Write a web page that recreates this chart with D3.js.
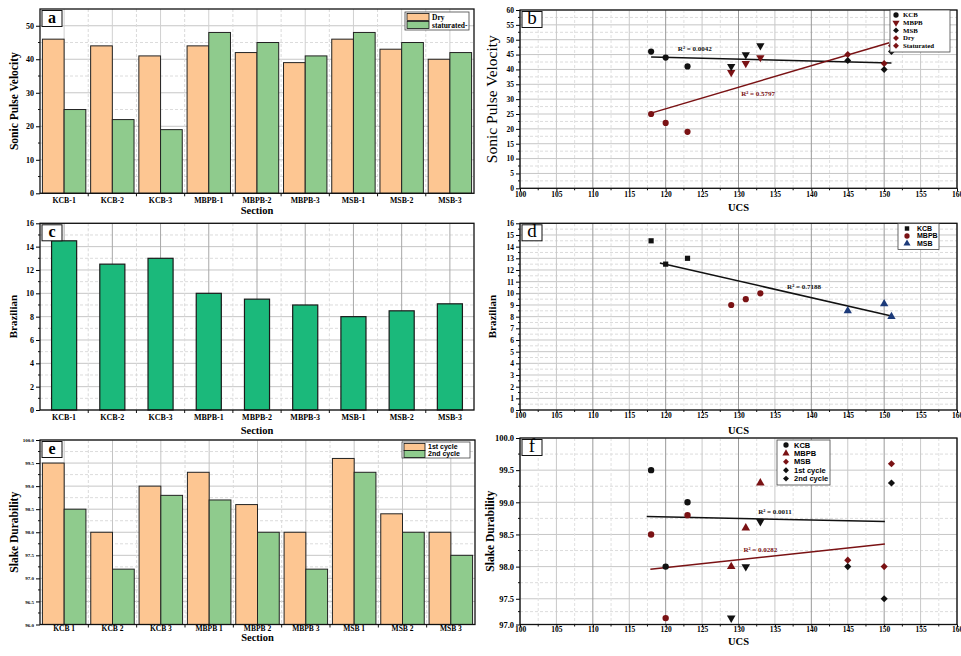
<!DOCTYPE html>
<html>
<head>
<meta charset="utf-8">
<script src="https://cdn.jsdelivr.net/npm/d3@7"></script>
<style>
  body { margin: 0; background: #fff; }
  svg { display: block; font-family: 'Liberation Serif', 'Times New Roman', serif; font-weight: bold; }
</style>
</head>
<body>
<div class="canvas"></div>
<script>
// ---- data ----
const sections = ['KCB-1', 'KCB-2', 'KCB-3', 'MBPB-1', 'MBPB-2', 'MBPB-3', 'MSB-1', 'MSB-2', 'MSB-3'];
const sectionsSlake = ['KCB 1', 'KCB 2', 'KCB 3', 'MBPB 1', 'MBPB 2', 'MBPB 3', 'MSB 1', 'MSB 2', 'MSB 3'];
const ucs = [118, 120, 123, 133, 131, 129, 151, 145, 150];

const sonicDry = [46, 44, 41, 44, 42, 39, 46, 43, 40];
const sonicSat = [25, 22, 19, 48, 45, 41, 48, 45, 42];
const brazilian = [14.5, 12.5, 13, 10, 9.5, 9, 8, 8.5, 9.1];
const slake1st = [99.5, 98.0, 99.0, 99.3, 98.6, 98.0, 99.6, 98.4, 98.0];
const slake2nd = [98.5, 97.2, 98.8, 98.7, 98.0, 97.2, 99.3, 98.0, 97.5];
const slakeUcs1st = [99.5, 98.0, 99.0, 99.3, 98.6, 98.0, 99.6, 98.1, 98.0];

// trend lines (end points as drawn)
const fitSonicBlack = [[118, 44.2], [151, 42.2]];
const fitSonicRed = [[118, 25.3], [150.7, 49]];
const fitBraz = [[119.2, 12.6], [151, 8.05]];
const fitSlakeBlack = [[117.4, 98.78], [150.1, 98.7]];
const fitSlakeRed = [[117.9, 97.96], [150.1, 98.35]];

const r2Sonic = ['R² = 0.0042', 'R² = 0.5797'];
const r2SonicAt = [[124, 47.2], [132.7, 32]];
const r2Braz = ['R² = 0.7188'];
const r2BrazAt = [[139, 10.6]];
const r2Slake = ['R² = 0.0011', 'R² = 0.0282'];
const r2SlakeAt = [[135, 98.85], [133, 98.26]];

// tick values
const ucsTicks = [100, 105, 110, 115, 120, 125, 130, 135, 140, 145, 150, 155, 160];
const sonicTicks = [0, 10, 20, 30, 40, 50];
const sonicUcsTicks = [0, 5, 10, 15, 20, 25, 30, 35, 40, 45, 50, 55, 60];
const brazTicks = [0, 2, 4, 6, 8, 10, 12, 14, 16];
const brazUcsTicks = [0, 1, 2, 3, 4, 5, 6, 7, 8, 9, 10, 11, 12, 13, 14, 15, 16];
const slakeTicks = [96.0, 96.5, 97.0, 97.5, 98.0, 98.5, 99.0, 99.5, 100.0];
const slakeUcsTicks = [97.1, 97.5, 98.0, 98.5, 99.0, 99.5, 100.0];

// ---- drawing ----
const svg = d3.select('.canvas')
    .append('svg')
    .attr('width', 961)
    .attr('height', 656)
;

const ink = '#111';
const red = '#7a1214';
const blue = '#1d3b7a';
const orange = '#fdc692';
const green = '#8fcb8d';
const teal = '#1bb97b';
const sans = "'Liberation Sans', Arial, sans-serif";

const mid = (a) => a.slice(1).map((v, i) => (v + a[i]) / 2);

const panel = (p) => {
    const g = svg.append('g');
    const y = d3.scaleLinear().domain(p.yDomain).range([p.bottom, p.top]);
    const x = p.cats
        ? d3.scaleBand().domain(p.cats).range([p.left, p.right]).paddingInner(p.pad).paddingOuter(p.pad / 2)
        : d3.scaleLinear().domain([100, 160]).range([p.left, p.right]);

    const grid = g.append('g').attr('fill', 'none');
    const yMinor = mid(p.yTicks);

    grid.append('g').selectAll('line').data(yMinor).join('line')
        .attr('x1', p.left).attr('x2', p.right)
        .attr('y1', d => y(d)).attr('y2', d => y(d))
        .attr('stroke', '#dcdcdc').attr('stroke-dasharray', '3,2')
    ;
    grid.append('g').selectAll('line').data(p.yTicks).join('line')
        .attr('x1', p.left).attr('x2', p.right)
        .attr('y1', d => y(d)).attr('y2', d => y(d))
        .attr('stroke', '#c6c6c6')
    ;

    if (p.cats) {
        const edge = p.cats.slice(1).map(c => x(c) - x.step() * p.pad / 2);
        grid.append('g').selectAll('line').data(edge).join('line')
            .attr('x1', d => d).attr('x2', d => d)
            .attr('y1', p.top).attr('y2', p.bottom)
            .attr('stroke', '#dadada').attr('stroke-dasharray', '3,2')
        ;
        grid.append('g').selectAll('line').data(p.cats).join('line')
            .attr('x1', d => x(d) + x.bandwidth() / 2).attr('x2', d => x(d) + x.bandwidth() / 2)
            .attr('y1', p.top).attr('y2', p.bottom)
            .attr('stroke', p.catGrid)
        ;
        g.append('g').selectAll('line').data(edge).join('line')
            .attr('x1', d => d).attr('x2', d => d)
            .attr('y1', p.bottom).attr('y2', p.bottom + 3)
            .attr('stroke', ink)
        ;
        const xa = g.append('g')
            .attr('transform', `translate(0,${p.bottom})`)
            .call(d3.axisBottom(x).tickSize(0).tickPadding(p.xOff))
        ;
        xa.select('.domain').remove();
        xa.attr('font-family', null).attr('font-size', p.xFont);
    } else {
        grid.append('g').selectAll('line').data(mid(ucsTicks)).join('line')
            .attr('x1', d => x(d)).attr('x2', d => x(d))
            .attr('y1', p.top).attr('y2', p.bottom)
            .attr('stroke', '#e0e0e0').attr('stroke-dasharray', '3,2')
        ;
        grid.append('g').selectAll('line').data(ucsTicks).join('line')
            .attr('x1', d => x(d)).attr('x2', d => x(d))
            .attr('y1', p.top).attr('y2', p.bottom)
            .attr('stroke', d => d % 10 === 0 ? '#9a9a9a' : '#c8c8c8')
        ;
        const xa = g.append('g')
            .attr('transform', `translate(0,${p.bottom})`)
            .call(d3.axisBottom(x).tickValues(ucsTicks).tickSizeInner(3).tickSizeOuter(0).tickPadding(p.xOff - 3))
        ;
        xa.select('.domain').remove();
        xa.attr('font-family', null).attr('font-size', p.xFont);
        g.append('g').selectAll('line').data(mid(ucsTicks)).join('line')
            .attr('x1', d => x(d)).attr('x2', d => x(d))
            .attr('y1', p.bottom).attr('y2', p.bottom + 2)
            .attr('stroke', ink)
        ;
    }

    // y axis
    const ya = g.append('g')
        .attr('transform', `translate(${p.left},0)`)
        .call(d3.axisLeft(y).tickValues(p.yTicks).tickFormat(p.yFmt).tickSizeInner(4).tickSizeOuter(0).tickPadding(2))
    ;
    ya.select('.domain').remove();
    ya.attr('font-family', null).attr('font-size', p.yFont);
    g.append('g').selectAll('line').data(yMinor).join('line')
        .attr('x1', p.left - 2).attr('x2', p.left)
        .attr('y1', d => y(d)).attr('y2', d => y(d))
        .attr('stroke', ink)
    ;

    // titles
    g.append('text')
        .attr('transform', `translate(${p.yTitleX},${(p.top + p.bottom) / 2}) rotate(-90)`)
        .attr('text-anchor', 'middle')
        .attr('font-size', p.yTitleSize)
        .attr('font-weight', p.yTitleWeight || 'bold')
        .text(p.yTitle)
    ;
    g.append('text')
        .attr('x', (p.left + p.right) / 2)
        .attr('y', p.xTitleY)
        .attr('text-anchor', 'middle')
        .attr('font-size', p.xTitleSize)
        .text(p.xTitle)
    ;

    const marks = g.append('g');

    // frame and letter box drawn on top
    g.append('rect')
        .attr('x', p.left).attr('y', p.top)
        .attr('width', p.right - p.left).attr('height', p.bottom - p.top)
        .attr('fill', 'none').attr('stroke', ink).attr('stroke-width', 1.3)
    ;
    g.append('rect')
        .attr('x', p.left + 2).attr('y', p.top + 1.5)
        .attr('width', 20).attr('height', 16)
        .attr('fill', '#fff').attr('stroke', ink).attr('stroke-width', 1)
    ;
    g.append('text')
        .attr('x', p.left + 12).attr('y', p.top + 14)
        .attr('text-anchor', 'middle')
        .attr('font-size', p.letterSize)
        .attr('font-weight', p.letterWeight)
        .text(p.letter)
    ;

    return { g, marks, x, y };
};

const symbolPath = (type, size) => d3.symbol().type(type).size(size)();
// diamonds in the figure are squares turned on their corner
const shapes = {
    circle: [d3.symbolCircle, 0, 1],
    up: [d3.symbolTriangle, 0, 1],
    down: [d3.symbolTriangle, 180, 1],
    diamond: [d3.symbolSquare, 45, 0.8],
    square: [d3.symbolSquare, 0, 0.9],
};

const drawPoints = (pn, pts, size) => {
    pn.marks.append('g').selectAll('path').data(pts).join('path')
        .attr('d', d => symbolPath(shapes[d.shape][0], size * shapes[d.shape][2]))
        .attr('transform', d => `translate(${pn.x(d.x)},${pn.y(d.y)}) rotate(${shapes[d.shape][1]})`)
        .attr('fill', d => d.colour)
    ;
};

const drawFit = (pn, pts, colour) => {
    pn.marks.append('path')
        .attr('d', d3.line().x(d => pn.x(d[0])).y(d => pn.y(d[1]))(pts))
        .attr('fill', 'none')
        .attr('stroke', colour)
        .attr('stroke-width', 1.5)
    ;
};

const drawR2 = (pn, labels, at, colour) => {
    pn.marks.append('g').selectAll('text').data(labels).join('text')
        .attr('x', (d, i) => pn.x(at[i][0]))
        .attr('y', (d, i) => pn.y(at[i][1]) + 2.5)
        .attr('text-anchor', 'middle')
        .attr('font-size', 7)
        .attr('fill', (d, i) => colour[i])
        .text(d => d)
    ;
};

const drawLegend = (pn, box, rows, font, fontSize, rowH) => {
    const lg = pn.g.append('g');
    lg.append('rect')
        .attr('x', box[0]).attr('y', box[1]).attr('width', box[2]).attr('height', box[3])
        .attr('fill', '#fff').attr('stroke', '#444').attr('stroke-width', 0.8)
    ;
    rows.forEach((r, i) => {
        const cy = box[1] + 5 + i * rowH;
        if (r.swatch) {
            lg.append('rect')
                .attr('x', box[0] + 2).attr('y', cy - 3.5).attr('width', r.swatch).attr('height', 7)
                .attr('fill', r.colour).attr('stroke', ink).attr('stroke-width', 0.8)
            ;
        } else {
            lg.append('path')
                .attr('d', symbolPath(shapes[r.shape][0], 22 * shapes[r.shape][2]))
                .attr('transform', `translate(${box[0] + r.mx},${cy}) rotate(${shapes[r.shape][1]})`)
                .attr('fill', r.colour)
            ;
        }
        lg.append('text')
            .attr('x', box[0] + r.tx).attr('y', cy + fontSize * 0.35)
            .attr('font-family', font)
            .attr('font-size', fontSize)
            .text(r.name)
        ;
    });
};

const groupOf = i => Math.floor(i / 3);

// ---- a: sonic pulse velocity bars ----
const pa = panel({
    left: 40, right: 474, top: 9, bottom: 193.3,
    cats: sections, pad: 0.1, catGrid: '#d0d0d0',
    yDomain: [0, 55], yTicks: sonicTicks, yFmt: d3.format('d'), yFont: 8,
    xFont: 7.8, xOff: 4.5,
    yTitle: 'Sonic Pulse Velocity', yTitleX: 18, yTitleSize: 11.5,
    xTitle: 'Section', xTitleY: 214, xTitleSize: 10.5,
    letter: 'a', letterSize: 16, letterWeight: 'bold',
});
const sub = d3.scaleBand().domain(['dry', 'sat']).range([0, pa.x.bandwidth()]);
pa.marks.append('g').selectAll('rect').data(sonicDry).join('rect')
    .attr('x', (d, i) => pa.x(sections[i]) + sub('dry'))
    .attr('y', d => pa.y(d))
    .attr('width', sub.bandwidth())
    .attr('height', d => pa.y(0) - pa.y(d))
    .attr('fill', orange).attr('stroke', '#222').attr('stroke-width', 1)
;
pa.marks.append('g').selectAll('rect').data(sonicSat).join('rect')
    .attr('x', (d, i) => pa.x(sections[i]) + sub('sat'))
    .attr('y', d => pa.y(d))
    .attr('width', sub.bandwidth())
    .attr('height', d => pa.y(0) - pa.y(d))
    .attr('fill', green).attr('stroke', '#222').attr('stroke-width', 1)
;
drawLegend(pa, [405, 12, 64, 18], [
    { name: 'Dry', colour: orange, swatch: 22, tx: 27 },
    { name: 'staturated-', colour: green, swatch: 22, tx: 27 },
], "'Liberation Serif', serif", 7.5, 8);

// ---- b: sonic pulse velocity vs UCS ----
const pb = panel({
    left: 520, right: 957, top: 10, bottom: 188.3,
    yDomain: [0, 60], yTicks: sonicUcsTicks, yFmt: d3.format('d'), yFont: 7.5,
    xFont: 7.5, xOff: 3,
    yTitle: 'Sonic Pulse Velocity', yTitleX: 497, yTitleSize: 15.5, yTitleWeight: 'normal',
    xTitle: 'UCS', xTitleY: 211, xTitleSize: 10.5,
    letter: 'b', letterSize: 19, letterWeight: 'normal',
});
const bShapes = ['circle', 'down', 'diamond'];
const bPoints = [];
ucs.forEach((u, i) => {
    const k = groupOf(i);
    const black = k === 1 ? sonicSat[i] : sonicDry[i];
    const other = k === 1 ? sonicDry[i] : sonicSat[i];
    bPoints.push({ x: u, y: other, shape: bShapes[k], colour: red });
    bPoints.push({ x: u, y: black, shape: bShapes[k], colour: ink });
});
drawFit(pb, fitSonicBlack, ink);
drawFit(pb, fitSonicRed, red);
drawPoints(pb, bPoints, 30);
drawR2(pb, r2Sonic, r2SonicAt, [ink, red]);
drawLegend(pb, [890, 10, 60, 42], [
    { name: 'KCB', colour: ink, shape: 'circle', mx: 6, tx: 13 },
    { name: 'MBPB', colour: red, shape: 'down', mx: 6, tx: 13 },
    { name: 'MSB', colour: ink, shape: 'diamond', mx: 6, tx: 13 },
    { name: 'Dry', colour: red, shape: 'diamond', mx: 6, tx: 13 },
    { name: 'Staturated', colour: red, shape: 'diamond', mx: 6, tx: 13 },
], "'Liberation Serif', serif", 6.8, 7.7);

// ---- c: brazilian bars ----
const pc = panel({
    left: 40, right: 474, top: 223.3, bottom: 410,
    cats: sections, pad: 0.48, catGrid: '#a8a8a8',
    yDomain: [0, 16], yTicks: brazTicks, yFmt: d3.format('d'), yFont: 8,
    xFont: 8, xOff: 4.5,
    yTitle: 'Brazilian', yTitleX: 17, yTitleSize: 11,
    xTitle: 'Section', xTitleY: 434, xTitleSize: 10.5,
    letter: 'c', letterSize: 16, letterWeight: 'bold',
});
pc.marks.append('g').selectAll('rect').data(brazilian).join('rect')
    .attr('x', (d, i) => pc.x(sections[i]))
    .attr('y', d => pc.y(d))
    .attr('width', pc.x.bandwidth())
    .attr('height', d => pc.y(0) - pc.y(d))
    .attr('fill', teal).attr('stroke', '#1a1a1a').attr('stroke-width', 1.2)
;

// ---- d: brazilian vs UCS ----
const pd = panel({
    left: 520, right: 957, top: 223.3, bottom: 410,
    yDomain: [0, 16], yTicks: brazUcsTicks, yFmt: d3.format('d'), yFont: 7.5,
    xFont: 7.5, xOff: 3,
    yTitle: 'Brazilian', yTitleX: 496, yTitleSize: 11,
    xTitle: 'UCS', xTitleY: 434, xTitleSize: 10.5,
    letter: 'd', letterSize: 19, letterWeight: 'normal',
});
const dShapes = ['square', 'circle', 'up'];
const dColours = [ink, red, blue];
drawFit(pd, fitBraz, ink);
drawPoints(pd, ucs.map((u, i) => ({ x: u, y: brazilian[i], shape: dShapes[groupOf(i)], colour: dColours[groupOf(i)] })), 30);
drawR2(pd, r2Braz, r2BrazAt, [ink]);
drawLegend(pd, [898, 223.5, 41, 26], [
    { name: 'KCB', colour: ink, shape: 'square', mx: 9, tx: 19 },
    { name: 'MBPB', colour: red, shape: 'circle', mx: 9, tx: 19 },
    { name: 'MSB', colour: blue, shape: 'up', mx: 9, tx: 19 },
], sans, 7, 7.5);

// ---- e: slake durability bars ----
const pe = panel({
    left: 40, right: 475, top: 440, bottom: 624.5,
    cats: sectionsSlake, pad: 0.1, catGrid: '#c4c4c4',
    yDomain: [96, 100], yTicks: slakeTicks, yFmt: d3.format('.1f'), yFont: 5,
    xFont: 7.5, xOff: 1.5,
    yTitle: 'Slake Durability', yTitleX: 18, yTitleSize: 11.5,
    xTitle: 'Section', xTitleY: 641, xTitleSize: 10.5,
    letter: 'e', letterSize: 16, letterWeight: 'bold',
});
const subE = d3.scaleBand().domain(['1st', '2nd']).range([0, pe.x.bandwidth()]);
pe.marks.append('g').selectAll('rect').data(slake1st).join('rect')
    .attr('x', (d, i) => pe.x(sectionsSlake[i]) + subE('1st'))
    .attr('y', d => pe.y(d))
    .attr('width', subE.bandwidth())
    .attr('height', d => pe.y(96) - pe.y(d))
    .attr('fill', orange).attr('stroke', '#222').attr('stroke-width', 1)
;
pe.marks.append('g').selectAll('rect').data(slake2nd).join('rect')
    .attr('x', (d, i) => pe.x(sectionsSlake[i]) + subE('2nd'))
    .attr('y', d => pe.y(d))
    .attr('width', subE.bandwidth())
    .attr('height', d => pe.y(96) - pe.y(d))
    .attr('fill', green).attr('stroke', '#222').attr('stroke-width', 1)
;
drawLegend(pe, [402, 442, 68, 16], [
    { name: '1st cycle', colour: orange, swatch: 21, tx: 26 },
    { name: '2nd cycle', colour: green, swatch: 21, tx: 26 },
], sans, 7, 7);

// ---- f: slake durability vs UCS ----
const pf = panel({
    left: 520, right: 957, top: 438, bottom: 624.5,
    yDomain: [97.1, 100], yTicks: slakeUcsTicks, yFmt: d => d < 97.5 ? '97.0' : d3.format('.1f')(d), yFont: 8.5,
    xFont: 7.5, xOff: 2,
    yTitle: 'Slake Durability', yTitleX: 494, yTitleSize: 11.5,
    xTitle: 'UCS', xTitleY: 645, xTitleSize: 10.5,
    letter: 'f', letterSize: 19, letterWeight: 'normal',
});
const f1Shapes = ['circle', 'up', 'diamond'];
const f1Colours = [ink, red, red];
const f2Shapes = ['circle', 'down', 'diamond'];
const f2Colours = [red, ink, ink];
drawFit(pf, fitSlakeBlack, ink);
drawFit(pf, fitSlakeRed, red);
drawPoints(pf, ucs.map((u, i) => ({ x: u, y: slakeUcs1st[i], shape: f1Shapes[groupOf(i)], colour: f1Colours[groupOf(i)] })), 32);
drawPoints(pf, ucs.map((u, i) => ({ x: u, y: slake2nd[i], shape: f2Shapes[groupOf(i)], colour: f2Colours[groupOf(i)] })), 32);
drawR2(pf, r2Slake, r2SlakeAt, [ink, red]);
drawLegend(pf, [777, 440, 53, 45], [
    { name: 'KCB', colour: ink, shape: 'circle', mx: 9, tx: 17 },
    { name: 'MBPB', colour: red, shape: 'up', mx: 9, tx: 17 },
    { name: 'MSB', colour: red, shape: 'diamond', mx: 9, tx: 17 },
    { name: '1st cycle', colour: ink, shape: 'diamond', mx: 9, tx: 17 },
    { name: '2nd cycle', colour: ink, shape: 'diamond', mx: 9, tx: 17 },
], sans, 7.5, 8.4);
</script>
</body>
</html>
